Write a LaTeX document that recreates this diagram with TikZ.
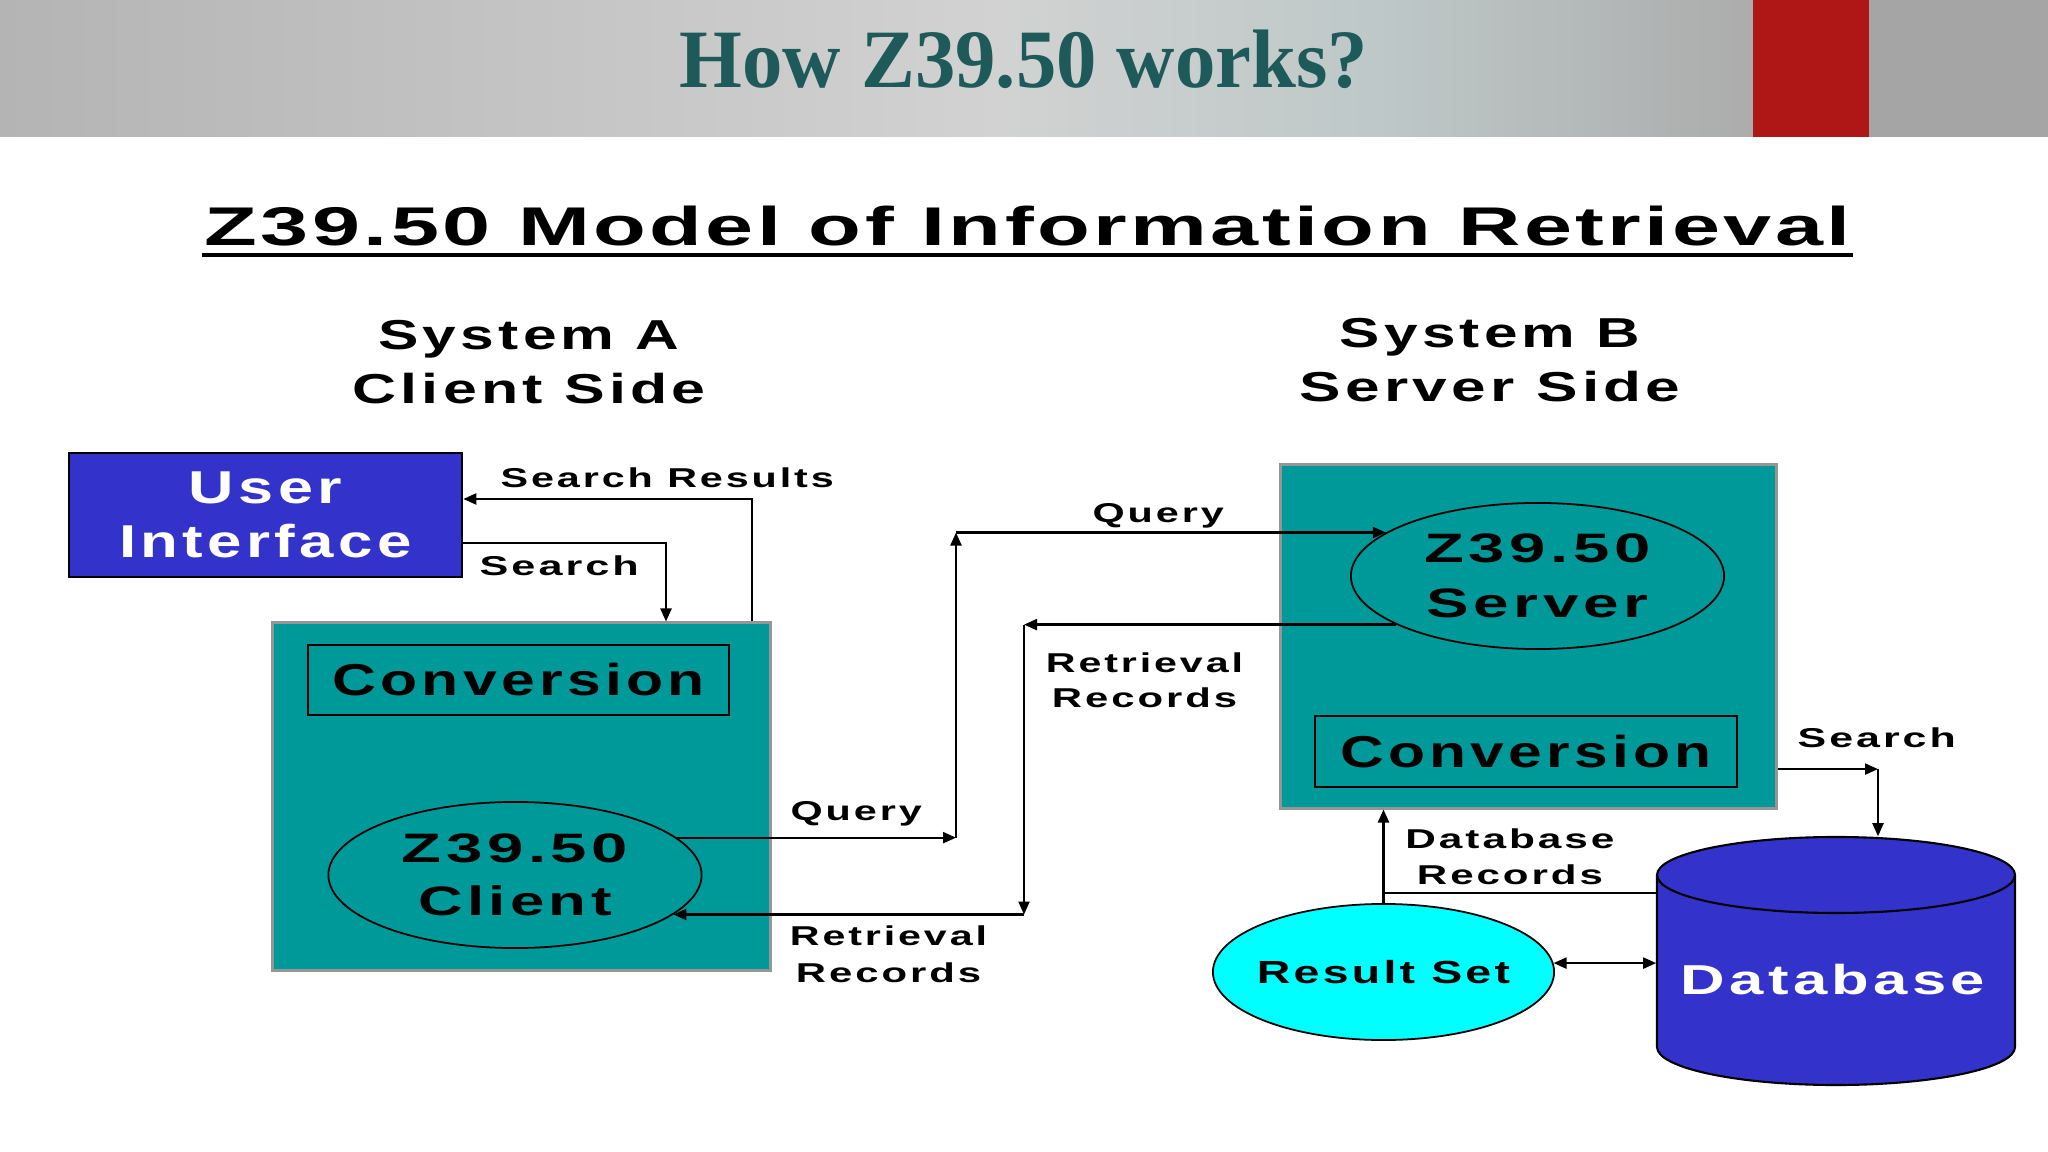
\documentclass[tikz,border=0pt]{standalone}
\usepackage{fontspec}
\usepackage{graphicx}
\usetikzlibrary{arrows.meta,shapes.geometric,calc}
\newfontfamily\labfont[LetterSpace=7]{Liberation Sans}
\newfontfamily\headfont[LetterSpace=4]{Liberation Sans}
\newfontfamily\titlefont{Liberation Serif}
\newcommand\fsz[2]{\fontsize{#1pt}{#2pt}\selectfont}
\newcommand\fitw[2]{\resizebox{#1cm}{\height}{#2}}
\definecolor{uiblue}{RGB}{51,51,204}
\definecolor{tealbox}{RGB}{0,153,153}
\definecolor{rscyan}{RGB}{0,255,255}
\definecolor{boxgray}{RGB}{150,150,150}
\definecolor{titlecol}{RGB}{30,90,90}
\definecolor{redbar}{RGB}{175,22,22}
\definecolor{hdrA}{RGB}{180,180,180}
\definecolor{hdrB}{RGB}{210,210,210}
\definecolor{hdrC}{RGB}{190,200,200}
\definecolor{hdrD}{RGB}{172,172,172}
\definecolor{hdrE}{RGB}{165,165,165}
\begin{document}
\begin{tikzpicture}[x=0.01cm,y=-0.01cm,
  conn/.style={line width=0.65pt},
  arr/.style={conn,-{Triangle[length=0.13cm,width=0.11cm]}},
  darr/.style={conn,{Triangle[length=0.13cm,width=0.11cm]}-{Triangle[length=0.13cm,width=0.11cm]}},
  tealpanel/.style={draw=boxgray,line width=0.8pt,fill=tealbox,rectangle,inner sep=0pt},
  convbox/.style={draw=black,line width=0.6pt,rectangle,inner sep=0pt,font=\labfont\bfseries\fsz{12.7}{15}},
  zell/.style={draw=black,line width=0.5pt,ellipse,inner sep=0pt,minimum width=3.73cm,minimum height=1.46cm,align=center},
  lbl/.style={inner sep=0pt,font=\labfont\bfseries\fsz{7.75}{10.5},align=center},
  biglbl/.style={inner sep=0pt,font=\labfont\bfseries\fsz{11.9}{15.4},align=center},
]
\useasboundingbox (0,0) rectangle (2048,1152);
\fill[white] (0,0) rectangle (2048,1152);
% header band
\shade[left color=hdrA,right color=hdrB] (0,0) rectangle (1000,137);
\shade[left color=hdrB,right color=hdrD,middle color=hdrC] (1000,0) rectangle (1753,137);
\fill[hdrE] (1869,0) rectangle (2048,137);
\fill[redbar] (1753,0) rectangle (1869,137);
\node[anchor=base west,inner sep=0pt,text=titlecol,font=\titlefont\bfseries\fsz{23.6}{28}] (title) at (679,88) {\fitw{6.88}{How Z39.50 works?}};

% heading
\node[anchor=base west,inner sep=0pt,font=\headfont\bfseries\fsz{15.5}{18}] (heading) at (204,246) {\fitw{16.45}{Z39.50 Model of Information Retrieval}};
\draw[line width=1pt] ($(heading.base west)+(-2,9)$) -- ($(heading.base east)+(2,9)$);

\node[biglbl] (sysA) at (529,362) {\fitw{3.01}{System A}\\\fitw{3.53}{Client Side}};
\node[biglbl] (sysB) at (1490,360.5) {\fitw{3.00}{System B}\\\fitw{3.81}{Server Side}};

% user interface
\node[draw=black,line width=0.7pt,fill=uiblue,minimum width=3.93cm,minimum height=1.24cm,inner sep=0pt,align=center,text=white,font=\labfont\bfseries\fsz{13.1}{15.4}] (ui) at (265.5,515) {\fitw{1.53}{User}\\\fitw{2.92}{Interface}};

% client side
\node[tealpanel,minimum width=4.97cm,minimum height=3.47cm] (clientbox) at (521.5,796.5) {};
\node[convbox,minimum width=4.21cm,minimum height=0.70cm] (convA) at (518.5,680) {\fitw{3.72}{Conversion}};
\node[zell,font=\labfont\bfseries\fsz{11.7}{15.1}] (client) at (515,875) {\fitw{2.26}{Z39.50}\\\fitw{1.93}{Client}};

% server side
\node[tealpanel,minimum width=4.95cm,minimum height=3.43cm] (serverbox) at (1528.5,636.5) {};
\node[zell,font=\labfont\bfseries\fsz{11.7}{15.65}] (server) at (1537.5,576) {\fitw{2.26}{Z39.50}\\\fitw{2.21}{Server}};
\node[convbox,minimum width=4.22cm,minimum height=0.71cm] (convB) at (1526,751.5) {\fitw{3.71}{Conversion}};

% result set
\node[ellipse,draw=black,line width=0.5pt,fill=rscyan,minimum width=3.41cm,minimum height=1.36cm,inner sep=0pt,font=\labfont\bfseries\fsz{9.1}{11}] (resultset) at (1383.5,972) {\makebox[0pt]{\fitw{2.53}{Result Set}}};

% database cylinder
\draw[line width=0.6pt,fill=uiblue] (1657,875) -- (1657,1047) arc[start angle=180,end angle=0,x radius=179,y radius=38] -- (2015,875) arc[start angle=0,end angle=-180,x radius=179,y radius=38] -- cycle;
\draw[line width=0.6pt] (1657,875) arc[start angle=180,end angle=0,x radius=179,y radius=38];
\node[inner sep=0pt,minimum width=3.58cm,minimum height=2.48cm] (db) at (1836,961) {};
\node[inner sep=0pt,text=white,font=\labfont\bfseries\fsz{11.9}{14}] (dbtext) at (1833,980) {\fitw{3.04}{Database}};

% labels
\node[lbl,anchor=base west] (lSR) at (500,488) {\fitw{3.33}{Search Results}};
\node[lbl,anchor=base west] (lS) at (479,576) {\fitw{1.59}{Search}};
\node[lbl,anchor=base west] (lQ1) at (790,820) {\fitw{1.31}{Query}};
\node[lbl] (lR1) at (888.5,954) {\fitw{1.97}{Retrieval}\\\fitw{1.85}{Records}};
\node[lbl,anchor=base west] (lQ2) at (1092,523) {\fitw{1.31}{Query}};
\node[lbl,font=\labfont\bfseries\fsz{7.75}{10}] (lR2) at (1144.5,680) {\fitw{1.97}{Retrieval}\\\fitw{1.85}{Records}};
\node[lbl,anchor=base west] (lS2) at (1797,747) {\fitw{1.58}{Search}};
\node[lbl,font=\labfont\bfseries\fsz{7.75}{10.2}] (lDR) at (1510,857) {\fitw{2.09}{Database}\\\fitw{1.86}{Records}};

% connectors
\coordinate (srv) at (752,0);
\coordinate (sv) at (666,0);
\draw[arr] (clientbox.north -| srv) |- ([yshift=0.16cm]ui.east);
\draw[arr] ([yshift=-0.28cm]ui.east) -| (clientbox.north -| sv);

\coordinate (qv) at (956,0);
\draw[arr] (client.13) -- (client.13 -| qv) coordinate (q1);
\draw[arr] (q1) -- (q1 |- server.164) coordinate (q2);
\draw[arr] (q2) -- (server.164);

\coordinate (rv) at (1024,0);
\draw[arr] (server.199) -- (server.199 -| rv) coordinate (r1);
\draw[arr] (r1) -- (r1 |- client.346) coordinate (r2);
\draw[arr] (r2) -- (client.346);

\coordinate (srt) at (1878,0);
\coordinate (sRa) at ([yshift=-1.325cm]serverbox.east);
\draw[arr] (sRa) -- (sRa -| srt) coordinate (s1);
\draw[arr] (s1) -- (s1 |- db.north);

\coordinate (drh) at (0,893);
\draw[arr] (resultset.north) -- (resultset.north |- serverbox.south);
\draw[conn] (db.west |- drh) -- (resultset.north |- drh);
\draw[darr] (resultset.3) -- (resultset.3 -| db.west);
\end{tikzpicture}
\end{document}
